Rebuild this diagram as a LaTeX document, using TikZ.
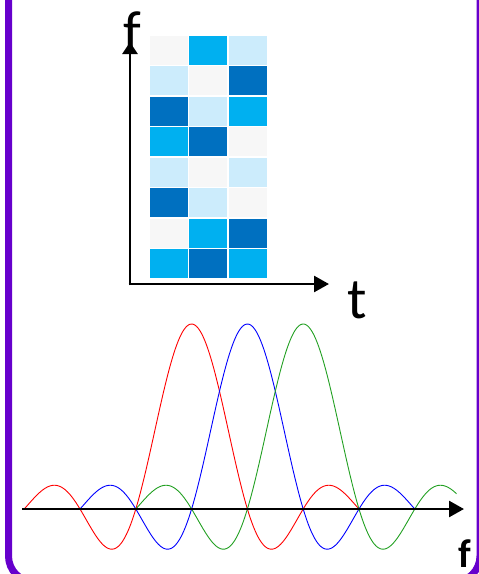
\documentclass[tikz,border=0pt]{standalone}
\usepackage{fontspec}
\newfontfamily\carl{Carlito}
\usetikzlibrary{arrows.meta}
\definecolor{framecol}{RGB}{102,0,204}
\definecolor{cgrey}{RGB}{247,247,247}
\definecolor{ccyan}{RGB}{0,176,240}
\definecolor{clight}{RGB}{204,236,252}
\definecolor{cdark}{RGB}{0,112,192}
\definecolor{cgreen}{RGB}{34,160,34}
\begin{document}
\begin{tikzpicture}[x=1pt,y=-1pt,
  axisline/.style={line width=2.6pt},
  cell/.style={draw=white,line width=1.2pt},
  wave/.style={line width=0.9pt},
  lbl/.style={anchor=base,inner sep=0pt}]
\useasboundingbox (0,0) rectangle (479,574);
\begin{scope}
\clip (0,0) rectangle (479,574);
\draw[framecol,line width=7pt,rounded corners=26pt] (8.5,-40) rectangle (480,582);
\end{scope}
% grid
\foreach \r/\a/\b/\c in {0/cgrey/ccyan/clight,1/clight/cgrey/cdark,2/cdark/clight/ccyan,3/ccyan/cdark/cgrey,4/clight/cgrey/clight,5/cdark/clight/cgrey,6/cgrey/ccyan/cdark,7/ccyan/cdark/ccyan}{
  \path[fill=\a,cell] (149,{35+30.5*\r}) rectangle (188.5,{35+30.5*(\r+1)});
  \path[fill=\b,cell] (188.5,{35+30.5*\r}) rectangle (228,{35+30.5*(\r+1)});
  \path[fill=\c,cell] (228,{35+30.5*\r}) rectangle (268,{35+30.5*(\r+1)});
}
% axes top
\coordinate (o) at (130,285.3);
\coordinate (ytip) at (130,42);
\coordinate (xo) at (128.7,284);
\coordinate (xtip) at (329,284);
\draw[axisline,-{Triangle[length=12pt,width=15pt]}] (o) -- (ytip);
\draw[axisline,-{Triangle[length=15pt,width=16pt]}] (xo) -- (xtip);
\node[lbl,font=\carl\fontsize{58}{60}\selectfont] (fl) at (132,51) {f};
\node[lbl,font=\carl\fontsize{58}{60}\selectfont] (tl) at (357,318) {t};
% waves
\draw[red,wave] plot[domain=-3:3,samples=240,smooth] ({191.6+55.8*\x},{509-185*sin(180*\x)/(pi*\x)});
\draw[blue,wave] plot[domain=-3:3,samples=240,smooth] ({247.4+55.8*\x},{509-185*sin(180*\x)/(pi*\x)});
\draw[cgreen,wave] plot[domain=-3:2.75,samples=240,smooth] ({303.2+55.8*\x},{509-185*sin(180*\x)/(pi*\x)});
\coordinate (bl) at (22,509);
\coordinate (br) at (464,509);
\draw[axisline,-{Triangle[length=15pt,width=16pt]}] (bl) -- (br);
\node[lbl,font=\carl\bfseries\fontsize{40}{42}\selectfont] (fb) at (464.5,567) {f};
\end{tikzpicture}
\end{document}
